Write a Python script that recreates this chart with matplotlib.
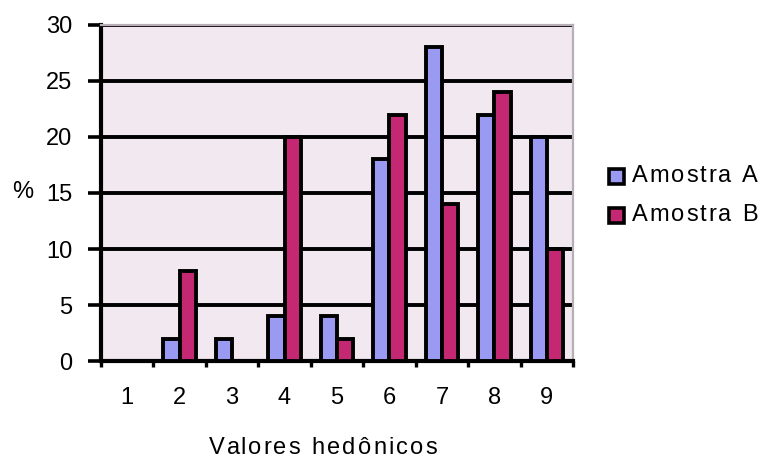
import matplotlib
matplotlib.use("Agg")
import matplotlib.pyplot as plt
import numpy as np
from matplotlib.patches import Rectangle
from matplotlib.transforms import IdentityTransform

plt.rcParams['font.family'] = ['Liberation Sans', 'DejaVu Sans']

categories = ['1', '2', '3', '4', '5', '6', '7', '8', '9']
amostra_a = [0, 2, 2, 4, 4, 18, 28, 22, 20]
amostra_b = [0, 8, 0, 20, 2, 22, 14, 24, 10]
series_names = ['Amostra A', 'Amostra B']
y_ticks = [0, 5, 10, 15, 20, 25, 30]

color_a = '#9A9AF2'
color_b = '#C42872'
bg = '#F2E9F0'
FS = 17

W, H = 761, 461
fig = plt.figure(figsize=(W / 100, H / 100), dpi=100)
ax = fig.add_axes([101 / W, 1 - 361 / H, (573 - 101) / W, (361 - 25) / H])
ax.set_facecolor(bg)

x = np.arange(len(categories))
w = 0.31
ax.bar(x - w / 2, amostra_a, width=w, color=color_a, edgecolor='black', linewidth=2.8, zorder=3)
ax.bar(x + w / 2, amostra_b, width=w, color=color_b, edgecolor='black', linewidth=2.8, zorder=3)

ax.set_xlim(-0.5, len(categories) - 0.5)
ax.set_ylim(0, 30)
ax.set_yticks(y_ticks)
ax.set_yticklabels([str(t) for t in y_ticks], fontsize=FS)
ax.yaxis.grid(True, color='black', linewidth=2.8, zorder=1)
ax.set_axisbelow(True)

# category labels centred in each slot, ticks on slot boundaries
ax.set_xticks(np.arange(-0.5, len(categories)))
ax.set_xticklabels([])
ax.set_xticks(x, minor=True)
ax.set_xticklabels(categories, minor=True, fontsize=FS)
ax.tick_params(axis='x', which='minor', length=0, pad=19)
ax.tick_params(axis='x', which='major', length=4, width=2.4, direction='out')
ax.tick_params(axis='y', length=9.5, width=2.6, direction='out', pad=11)

for side in ['left', 'bottom']:
    ax.spines[side].set_linewidth(3)
    ax.spines[side].set_color('black')
for side in ['top', 'right']:
    ax.spines[side].set_linewidth(1.6)
    ax.spines[side].set_color('#B8AEB6')

renderer = fig.canvas.get_renderer()


def text_width(s, size):
    t = fig.text(0, 0, s + '|', fontsize=size, transform=IdentityTransform())
    wa = t.get_window_extent(renderer).width
    t.remove()
    t = fig.text(0, 0, '|', fontsize=size, transform=IdentityTransform())
    wb = t.get_window_extent(renderer).width
    t.remove()
    return wa - wb


def spaced_text(x_px, y_px, s, size, tracking, ha='left'):
    """Draw text with extra letter spacing; y_px measured from the top."""
    total = text_width(s, size) + tracking * (len(s) - 1)
    start = x_px - (total / 2 if ha == 'center' else 0)
    for i, ch in enumerate(s):
        if ch == ' ':
            continue
        xi = start + text_width(s[:i], size) + tracking * i
        fig.text(xi, H - y_px, ch, fontsize=size, ha='left', va='center',
                 transform=IdentityTransform())


fig.text(12, H - 192, '%', fontsize=FS, ha='left', va='center', transform=IdentityTransform())
spaced_text(323, 448, 'Valores hedônicos', FS, 2.2, ha='center')

# legend
for name, col, yc in zip(series_names, [color_a, color_b], [176, 215]):
    fig.patches.append(Rectangle((609, H - yc - 7.5), 15, 15, facecolor=col, edgecolor='black',
                                 linewidth=2.6, transform=IdentityTransform(), figure=fig))
    spaced_text(632, yc, name, FS, 1.9)

fig.savefig('out.png', dpi=100, facecolor='white')
